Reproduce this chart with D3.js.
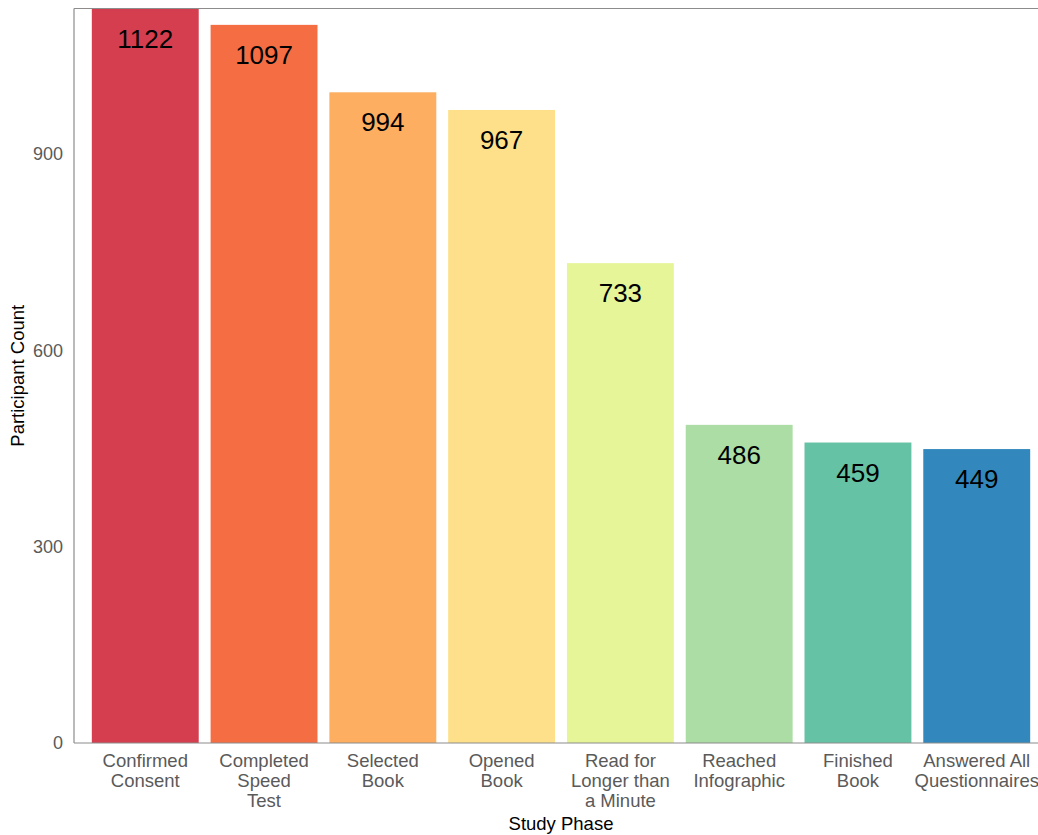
<!DOCTYPE html>
<html>
<head>
<meta charset="utf-8">
<script src="https://cdn.jsdelivr.net/npm/d3@7"></script>
<style>
  html, body { margin: 0; padding: 0; background: #fff; }
  svg { display: block; }
  text { font-family: "Liberation Sans", Arial, sans-serif; }
</style>
</head>
<body>
<script>
// Study funnel: participants remaining at each phase
const phases = [
  ["Confirmed", "Consent"],
  ["Completed", "Speed", "Test"],
  ["Selected", "Book"],
  ["Opened", "Book"],
  ["Read for", "Longer than", "a Minute"],
  ["Reached", "Infographic"],
  ["Finished", "Book"],
  ["Answered All", "Questionnaires"]
];
const counts = [1122, 1097, 994, 967, 733, 486, 459, 449];
const colors = ["#D53E4F", "#F46D43", "#FDAE61", "#FEE08B", "#E6F598", "#ABDDA4", "#66C2A5", "#3288BD"];
const yTicks = [0, 300, 600, 900];

const W = 1038, H = 835;
const panel = { left: 74, right: 1048, top: 8.5, bottom: 743 };

const svg = d3.select("body").append("svg")
  .attr("width", W).attr("height", H);

const keys = phases.map(p => p.join(" "));
const x = d3.scaleBand()
  .domain(keys)
  .range([panel.left, panel.right])
  .paddingInner(0.1)
  .paddingOuter(0.15);

const y = d3.scaleLinear()
  .domain([0, 1122])
  .range([panel.bottom, panel.top]);

const data = keys.map((k, i) => ({ key: k, lines: phases[i], value: counts[i], color: colors[i] }));

// bars
svg.append("g").selectAll("rect")
  .data(data)
  .join("rect")
  .attr("x", d => x(d.key))
  .attr("width", x.bandwidth())
  .attr("y", d => y(d.value))
  .attr("height", d => y(0) - y(d.value))
  .attr("fill", d => d.color);

// value labels inside bar tops
svg.append("g").selectAll("text")
  .data(data)
  .join("text")
  .attr("x", d => x(d.key) + x.bandwidth() / 2)
  .attr("y", d => y(d.value) + 39)
  .attr("text-anchor", "middle")
  .attr("font-size", "26px")
  .attr("fill", "#000")
  .text(d => d.value);

// panel lines: left axis, bottom axis, top border
const lineColor = "#8c8c8c";
svg.append("line")
  .attr("x1", panel.left).attr("x2", panel.left)
  .attr("y1", panel.top).attr("y2", panel.bottom)
  .attr("stroke", lineColor).attr("stroke-width", 1.2);
svg.append("line")
  .attr("x1", panel.left).attr("x2", W)
  .attr("y1", panel.bottom).attr("y2", panel.bottom)
  .attr("stroke", lineColor).attr("stroke-width", 1.2);
svg.append("line")
  .attr("x1", panel.left).attr("x2", W)
  .attr("y1", panel.top).attr("y2", panel.top)
  .attr("stroke", lineColor).attr("stroke-width", 1.2);

// y tick labels
svg.append("g").selectAll("text")
  .data(yTicks)
  .join("text")
  .attr("x", 63)
  .attr("y", d => y(d))
  .attr("dy", "0.35em")
  .attr("text-anchor", "end")
  .attr("font-size", "18px")
  .attr("fill", "#5a5a5a")
  .text(d => d);

// x category labels (multi-line)
const xl = svg.append("g").selectAll("text")
  .data(data)
  .join("text")
  .attr("text-anchor", "middle")
  .attr("font-size", "18.5px")
  .attr("fill", "#5a5a5a");
xl.selectAll("tspan")
  .data(d => d.lines.map(l => ({ l, cx: x(d.key) + x.bandwidth() / 2 })))
  .join("tspan")
  .attr("x", d => d.cx)
  .attr("y", (d, i) => 767 + i * 20)
  .text(d => d.l);

// axis titles
svg.append("text")
  .attr("x", (panel.left + panel.right) / 2)
  .attr("y", 830)
  .attr("text-anchor", "middle")
  .attr("font-size", "18.5px")
  .attr("fill", "#000")
  .text("Study Phase");

svg.append("text")
  .attr("transform", `translate(24,${(panel.top + panel.bottom) / 2}) rotate(-90)`)
  .attr("text-anchor", "middle")
  .attr("font-size", "18.5px")
  .attr("fill", "#000")
  .text("Participant Count");
</script>
</body>
</html>
